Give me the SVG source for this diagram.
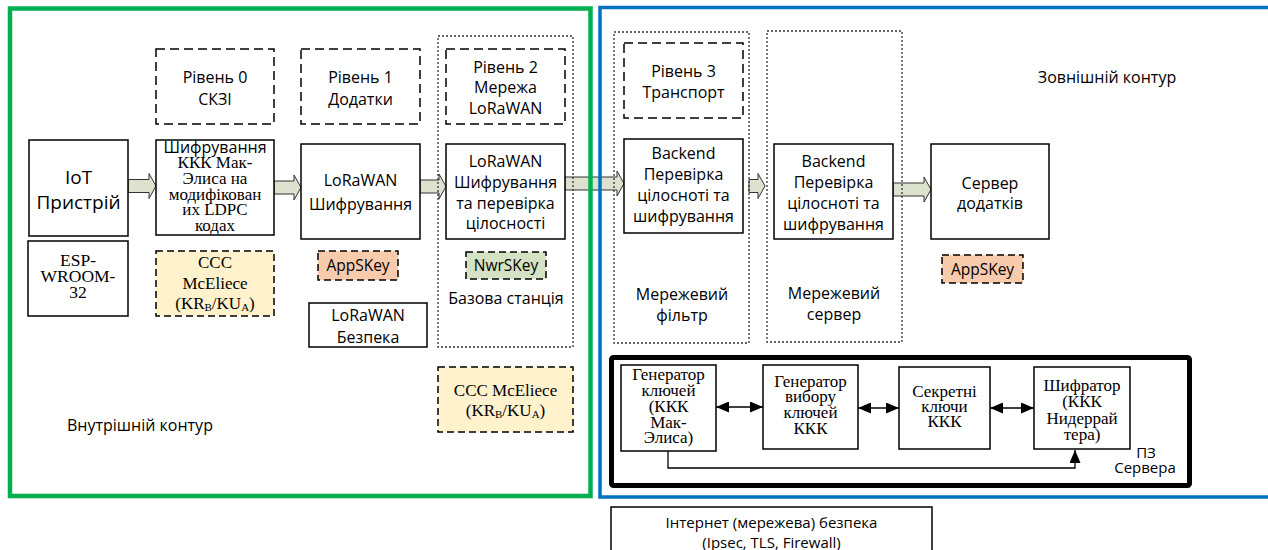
<svg xmlns="http://www.w3.org/2000/svg" width="1268" height="550" viewBox="0 0 1268 550">
<style>
.s{font-family:"Open Sans","Noto Sans","Liberation Sans",sans-serif;font-size:16px;fill:#000;text-anchor:middle}
.r{font-family:"Liberation Serif","Times New Roman",serif;font-size:17px;fill:#000;text-anchor:middle}
.box{fill:#fff;stroke:#000;stroke-width:1.5}
.dash{fill:#fff;stroke:#000;stroke-width:1.5;stroke-dasharray:9 5}
.kdash{stroke:#000;stroke-width:1.5;stroke-dasharray:7 4}
.dot{fill:none;stroke:#333;stroke-width:1.3;stroke-dasharray:2 2}
.blk{fill:#DCE2CE;stroke:#333;stroke-width:1}
.ln{fill:none;stroke:#000;stroke-width:1.3}
.yel{fill:#FFF2CC}
.org{fill:#F8CBAD}
.grn{fill:#D5E2C3}
</style>
<defs>
<marker id="ah" markerUnits="userSpaceOnUse" markerWidth="13" markerHeight="11" refX="13" refY="5.5" orient="auto-start-reverse">
<path d="M0,0 L13,5.5 L0,11 z" fill="#000"/>
</marker>
</defs>
<rect width="1268" height="550" fill="#fff"/>

<g id="connectors">
<polygon class="blk" points="128,179.5 149,179.5 149,173.5 156,186 149,198.5 149,192.5 128,192.5"/>
<polygon class="blk" points="274,181 294,181 294,175 301,187.5 294,200 294,194 274,194"/>
<polygon class="blk" points="420,180 439,180 439,174 446,186.5 439,199 439,193 420,193"/>
<polygon class="blk" points="565,177 617,177 617,171 624,183.5 617,196 617,190 565,190"/>
<polygon class="blk" points="749,179.5 758,179.5 758,173.5 765,186 758,198.5 758,192.5 749,192.5"/>
<polygon class="blk" points="893,183 924,183 924,177 931,189.5 924,202 924,196 893,196"/>
<line class="ln" x1="716" y1="407" x2="763" y2="407" marker-start="url(#ah)" marker-end="url(#ah)"/>
<line class="ln" x1="858" y1="408" x2="899" y2="408" marker-start="url(#ah)" marker-end="url(#ah)"/>
<line class="ln" x1="990" y1="408" x2="1034" y2="408" marker-start="url(#ah)" marker-end="url(#ah)"/>
<polyline class="ln" points="668,451 668,468 1075,468 1075,450" marker-end="url(#ah)"/>
</g>

<g id="inner-contour">
<rect x="10" y="8.5" width="580.5" height="487.5" fill="none" stroke="#00B050" stroke-width="4.5"/>
<text class="s" x="67" y="430.5" style="text-anchor:start">Внутрішній контур</text>
</g>

<g id="outer-contour">
<rect x="600" y="7.5" width="680" height="489.5" fill="none" stroke="#0070C0" stroke-width="3.5"/>
<text class="s" x="1107" y="82.5">Зовнішній контур</text>
</g>

<g id="iot">
<rect class="box" x="29" y="140" width="99" height="96"/>
<text class="s" x="78.5" y="184" style="font-size:19px">IoT</text>
<text class="s" x="78.5" y="209" style="font-size:19px">Пристрій</text>
</g>

<g id="esp">
<rect class="box" x="28" y="241" width="100" height="75"/>
<text class="r" x="78" y="266" style="font-size:17.5px">ESP-</text>
<text class="r" x="78" y="282" style="font-size:17.5px">WROOM-</text>
<text class="r" x="78" y="298" style="font-size:17.5px">32</text>
</g>

<g id="level0">
<rect class="dash" x="156" y="49" width="118" height="75"/>
<text class="s" x="215" y="82.5">Рівень 0</text>
<text class="s" x="215" y="104.5">СКЗІ</text>
</g>

<g id="mceliece-enc">
<rect class="box" x="156" y="140" width="118" height="95"/>
<text class="s" x="215" y="152.5">Шифрування</text>
<text class="r" x="215" y="168">ККК Мак-</text>
<text class="r" x="215" y="184">Элиса на</text>
<text class="r" x="215" y="199.5">модифікован</text>
<text class="r" x="215" y="215">их LDPC</text>
<text class="r" x="215" y="231">кодах</text>
</g>

<g id="ccc1">
<rect class="kdash yel" x="156" y="251" width="118" height="65"/>
<text class="r" x="215" y="268">CCC</text>
<text class="r" x="215" y="289">McEliece</text>
<text class="r" x="215" y="309">(KR<tspan font-size="11" dy="2">B</tspan><tspan dy="-2">/KU</tspan><tspan font-size="11" dy="2">A</tspan><tspan dy="-2">)</tspan></text>
</g>

<g id="level1">
<rect class="dash" x="301" y="49" width="119" height="75"/>
<text class="s" x="360.5" y="82.5">Рівень 1</text>
<text class="s" x="360.5" y="104.5">Додатки</text>
</g>

<g id="lorawan-enc">
<rect class="box" x="301" y="144" width="119" height="95"/>
<text class="s" x="360.5" y="185.5">LoRaWAN</text>
<text class="s" x="360.5" y="209.5">Шифрування</text>
</g>

<g id="appskey1">
<rect class="kdash org" x="318" y="251" width="80" height="29"/>
<text class="s" x="358" y="271" style="font-size:15.5px">AppSKey</text>
</g>

<g id="lorawan-sec">
<rect class="box" x="309" y="303" width="118" height="44"/>
<text class="s" x="368" y="320.5">LoRaWAN</text>
<text class="s" x="368" y="342.5">Безпека</text>
</g>

<g id="base-station">
<rect class="dot" x="438" y="36" width="135" height="311"/>
<text class="s" x="506" y="303.5">Базова станція</text>
</g>

<g id="level2">
<rect class="dash" x="446" y="49" width="119" height="75"/>
<text class="s" x="505.5" y="72.5">Рівень 2</text>
<text class="s" x="505.5" y="93">Мережа</text>
<text class="s" x="505.5" y="113.5">LoRaWAN</text>
</g>

<g id="lorawan-enc-check">
<rect class="box" x="446" y="144" width="119" height="95"/>
<text class="s" x="505.5" y="166.5">LoRaWAN</text>
<text class="s" x="505.5" y="187.5">Шифрування</text>
<text class="s" x="505.5" y="208.5">та перевірка</text>
<text class="s" x="505.5" y="229">цілосності</text>
</g>

<g id="nwrskey">
<rect class="kdash grn" x="466" y="252" width="80" height="27"/>
<text class="s" x="506" y="271" style="font-size:15.5px">NwrSKey</text>
</g>

<g id="ccc2">
<rect class="kdash yel" x="438" y="367" width="135" height="65"/>
<text class="r" x="505.5" y="396">CCC McEliece</text>
<text class="r" x="505.5" y="416">(KR<tspan font-size="11" dy="2">B</tspan><tspan dy="-2">/KU</tspan><tspan font-size="11" dy="2">A</tspan><tspan dy="-2">)</tspan></text>
</g>

<g id="network-filter">
<rect class="dot" x="614" y="32" width="135" height="311"/>
<text class="s" x="682" y="299.5">Мережевий</text>
<text class="s" x="682" y="320.5">фільтр</text>
</g>

<g id="level3">
<rect class="dash" x="624" y="43" width="119" height="75"/>
<text class="s" x="683.5" y="76.5">Рівень 3</text>
<text class="s" x="683.5" y="97.5">Транспорт</text>
</g>

<g id="backend1">
<rect class="box" x="624" y="139" width="119" height="94"/>
<text class="s" x="683.5" y="158.5">Backend</text>
<text class="s" x="683.5" y="179.5">Перевірка</text>
<text class="s" x="683.5" y="200.5">цілосноті та</text>
<text class="s" x="683.5" y="221.5">шифрування</text>
</g>

<g id="network-server">
<rect class="dot" x="767" y="31" width="135" height="311"/>
<text class="s" x="834" y="298.5">Мережевий</text>
<text class="s" x="834" y="319.5">сервер</text>
</g>

<g id="backend2">
<rect class="box" x="774" y="144" width="119" height="95"/>
<text class="s" x="833.5" y="166.5">Backend</text>
<text class="s" x="833.5" y="187.5">Перевірка</text>
<text class="s" x="833.5" y="208.5">цілосноті та</text>
<text class="s" x="833.5" y="229.5">шифрування</text>
</g>

<g id="app-server">
<rect class="box" x="931" y="144" width="118" height="95"/>
<text class="s" x="990" y="188.5">Сервер</text>
<text class="s" x="990" y="208.5">додатків</text>
</g>

<g id="appskey2">
<rect class="kdash org" x="942" y="255" width="81" height="28"/>
<text class="s" x="982.5" y="274.5" style="font-size:15.5px">AppSKey</text>
</g>

<g id="server-software">
<rect x="611.5" y="357.5" width="578" height="128" rx="2" fill="none" stroke="#000" stroke-width="5"/>
<text class="s" x="1146" y="457.5" style="font-size:15px">ПЗ</text>
<text class="s" x="1145" y="473" style="font-size:15px">Сервера</text>
</g>

<g id="key-generator">
<rect class="box" x="621" y="365" width="95" height="86"/>
<text class="r" x="668.5" y="380">Генератор</text>
<text class="r" x="668.5" y="396">ключей</text>
<text class="r" x="668.5" y="412">(ККК</text>
<text class="r" x="668.5" y="428">Мак-</text>
<text class="r" x="668.5" y="443">Элиса)</text>
</g>

<g id="key-selection">
<rect class="box" x="763" y="365" width="95" height="84"/>
<text class="r" x="810.5" y="387">Генератор</text>
<text class="r" x="810.5" y="402">вибору</text>
<text class="r" x="810.5" y="418">ключей</text>
<text class="r" x="810.5" y="434">ККК</text>
</g>

<g id="secret-keys">
<rect class="box" x="899" y="367" width="91" height="82"/>
<text class="r" x="944.5" y="397">Секретні</text>
<text class="r" x="944.5" y="412">ключи</text>
<text class="r" x="944.5" y="427">ККК</text>
</g>

<g id="encryptor">
<rect class="box" x="1034" y="367" width="96" height="82"/>
<text class="r" x="1082" y="391">Шифратор</text>
<text class="r" x="1082" y="407">(ККК</text>
<text class="r" x="1082" y="424">Нидеррай</text>
<text class="r" x="1082" y="440">тера)</text>
</g>

<g id="internet-security">
<rect class="box" x="611" y="507" width="321" height="50"/>
<text class="s" x="771.5" y="528" style="font-size:15px">Інтернет (мережева) безпека</text>
<text class="s" x="771.5" y="548" style="font-size:15px">(Ipsec, TLS, Firewall)</text>
</g>
</svg>
